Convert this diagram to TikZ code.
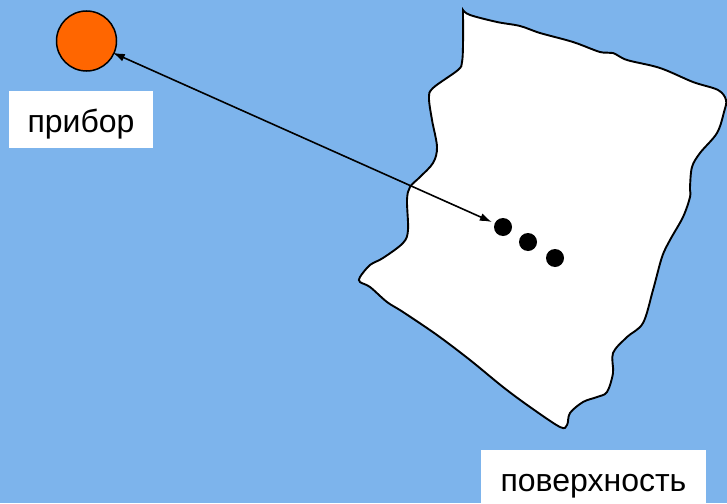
\documentclass[tikz,border=0pt]{standalone}
\usepackage{fontspec}
\setmainfont{Liberation Sans}
\usetikzlibrary{arrows.meta}
\definecolor{skyback}{RGB}{125,180,236}
\definecolor{devorange}{RGB}{255,102,0}
\tikzset{
  labelbox/.style={fill=white, inner sep=0pt, text height=30pt, text depth=5pt,
    minimum height=57pt, font=\fontsize{32}{38}\selectfont},
  spot/.style={circle, fill=black, inner sep=0pt, minimum size=18pt},
  outline/.style={draw=black, line width=1.9pt, fill=white}
}
\begin{document}
\begin{tikzpicture}[x=1pt, y=-1pt]
  \useasboundingbox (0,0) rectangle (727,503);
  \fill[skyback] (0,0) rectangle (727,503);

  % the surface patch
  \draw[outline] plot[smooth, tension=0.55] coordinates {
    (463,10) (470,15) (497,22) (520,26) (540,33) (573,42) (600,52) (613,53)
    (627,60) (660,68) (693,82) (718,90) (726,100) (724,112) (717,133) (700,153)
    (692,167) (690,187) (690,197) (683,217) (670,240) (662,257) (653,290)
    (643,323) (627,337) (613,353) (613,373) (607,392) (597,397) (583,402)
    (570,413) (567,425) (560,427) (530,407) (503,387) (470,360) (437,335)
    (403,312) (387,302) (370,287) (360,282) (360,277) (370,265) (383,258)
    (403,243) (408,230) (407,200) (410,187) (420,177) (433,163) (437,147)
    (432,120) (429,98) (433,88) (458,70) (462,62) (463,45) (463,10)} -- cycle;

  % instrument
  \node[circle, draw=black, line width=1.5pt, fill=devorange, minimum size=60pt,
        inner sep=0pt] (dev) at (86.5,41) {};

  % points on the surface
  \node[spot] (d1) at (503,227) {};
  \node[spot] (d2) at (528,242) {};
  \node[spot] (d3) at (555,258) {};

  % labels
  \node[labelbox, minimum width=144pt] (lbldev) at (81,119.5) {прибор};
  \node[labelbox, minimum width=225pt] (lblsurf) at (593.5,478.5) {поверхность};

  % line of sight
  \draw[line width=1.6pt, {Latex[length=12pt,width=8pt]}-{Latex[length=12pt,width=8pt]},
        shorten <=-2pt, shorten >=3pt] (dev) -- (d1);
\end{tikzpicture}
\end{document}
